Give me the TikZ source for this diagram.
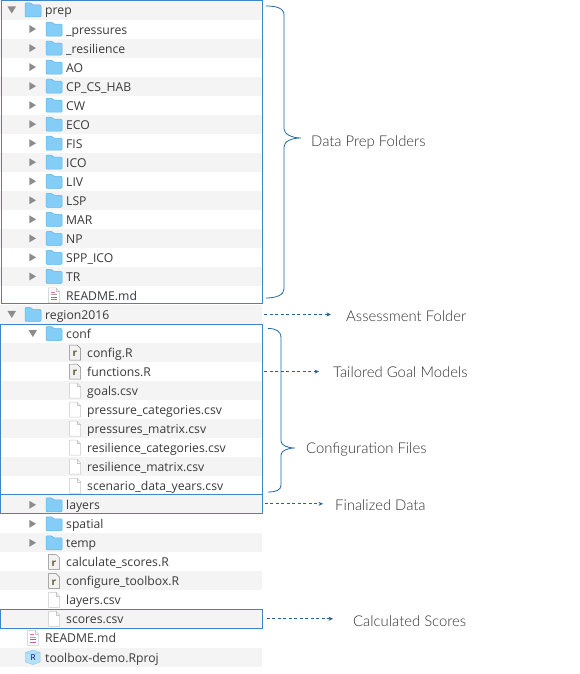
\documentclass[tikz,border=0pt]{standalone}
\usepackage{fontspec}
\setmainfont{Open Sans}
\newfontfamily\notefont{Lato Light}
\usetikzlibrary{arrows.meta}
\definecolor{rowgray}{HTML}{F4F4F4}
\definecolor{folderblue}{HTML}{84CDF7}
\definecolor{folderedge}{HTML}{5DB4E8}
\definecolor{boxblue}{HTML}{3F86C8}
\definecolor{bracecol}{HTML}{1F66A6}
\definecolor{arrowcol}{HTML}{2B5F92}
\definecolor{tricol}{HTML}{8C8C8C}
\definecolor{textcol}{HTML}{3A3A3A}
\definecolor{notecol}{HTML}{303030}
\tikzset{
  rowbar/.style={minimum width=262pt, minimum height=19.03pt, inner sep=0pt, outer sep=0pt},
  rowtext/.style={anchor=base west, inner sep=0pt, font=\fontsize{12.2}{14}\selectfont, text=textcol},
  selbox/.style={draw=boxblue, line width=1pt, inner sep=0pt},
  notelabel/.style={anchor=west, inner sep=0pt, font=\notefont\fontsize{14.85}{17}\selectfont, text=notecol},
  brace/.style={draw=bracecol, line width=0.8pt},
  pointer/.style={draw=arrowcol, line width=0.7pt, dash pattern=on 3pt off 2.5pt, -{Stealth[length=4.5pt,width=4pt]}},
  pics/foldericon/.style={code={
    \draw[fill=folderblue, draw=folderedge, line width=0.5pt, rounded corners=1pt]
      (-20,7) -- (-20,-7) -- (-14,-7) -- (-12.5,-5) -- (-4,-5) -- (-4,7) -- cycle;
  }},
  pics/fc/.style={code={
    \pic {foldericon};
    \fill[tricol] (-36.7,-4) -- (-30,0) -- (-36.7,4) -- cycle;
  }},
  pics/fo/.style={code={
    \pic {foldericon};
    \fill[tricol] (-37.5,-3.5) -- (-29,-3.5) -- (-33.2,3.5) -- cycle;
  }},
  pics/pageicon/.style={code={
    \draw[fill=white, draw=black!22, line width=0.5pt]
      (-17.5,-7.5) -- (-10,-7.5) -- (-6.5,-4) -- (-6.5,7.5) -- (-17.5,7.5) -- cycle;
    \draw[black!22, line width=0.4pt] (-10,-7.5) -- (-10,-4) -- (-6.5,-4);
  }},
  pics/csv/.style={code={\pic {pageicon};}},
  pics/rf/.style={code={
    \draw[black!50, fill=black!5, line width=0.5pt] (-17.5,-7.5) -- (-10,-7.5) -- (-6.5,-4) -- (-6.5,7.5) -- (-17.5,7.5) -- cycle;
    \node[inner sep=0pt, text=black!40!olive, font=\fontsize{10}{10}\selectfont\bfseries] at (-12,1.6) {r};
  }},
  pics/md/.style={code={
    \pic {pageicon};
    \draw[magenta!60, line width=0.8pt] (-15.5,-3.5) -- (-11,-3.5);
    \draw[black!35, line width=0.8pt] (-15.5,-1) -- (-9,-1);
    \draw[cyan!70!black, line width=0.8pt] (-15.5,1.5) -- (-9,1.5);
    \draw[violet!60, line width=0.8pt] (-15.5,4) -- (-9,4);
  }},
  pics/proj/.style={code={
    \draw[fill=folderblue!60, draw=folderedge!70, line width=0.5pt]
      (-12,-7) -- (-5,-4.5) -- (-5,5) -- (-12,7.5) -- (-19.5,5) -- (-19.5,-4.5) -- cycle;
    \draw[folderedge!80, line width=0.4pt] (-19.5,-4.5) -- (-12,-2.5) -- (-5,-4.5);
    \node[inner sep=0pt, text=blue!60!black, font=\fontsize{8}{8}\selectfont] at (-12,0.5) {R};
  }}
}
\begin{document}
\begin{tikzpicture}[x=1pt,y=-1pt]
\useasboundingbox (0,0) rectangle (580,674);
% rows
\foreach \i/\lvl/\kind/\name in {
  0/0/fo/prep, 1/1/fc/\_pressures, 2/1/fc/\_resilience, 3/1/fc/AO, 4/1/fc/CP\_CS\_HAB,
  5/1/fc/CW, 6/1/fc/ECO, 7/1/fc/FIS, 8/1/fc/ICO, 9/1/fc/LIV, 10/1/fc/LSP, 11/1/fc/MAR,
  12/1/fc/NP, 13/1/fc/SPP\_ICO, 14/1/fc/TR, 15/1/md/README.md, 16/0/fo/region2016,
  17/1/fo/conf, 18/2/rf/config.R, 19/2/rf/functions.R, 20/2/csv/goals.csv,
  21/2/csv/pressure\_categories.csv, 22/2/csv/pressures\_matrix.csv,
  23/2/csv/resilience\_categories.csv, 24/2/csv/resilience\_matrix.csv,
  25/2/csv/scenario\_data\_years.csv, 26/1/fc/layers, 27/1/fc/spatial, 28/1/fc/temp,
  29/1/rf/calculate\_scores.R, 30/1/rf/configure\_toolbox.R, 31/1/csv/layers.csv,
  32/1/csv/scores.csv, 33/0/md/README.md, 34/0/proj/toolbox-demo.Rproj}
{
  \pgfmathsetmacro{\rowy}{10+19.03*\i}
  \pgfmathsetmacro{\rowx}{45+21*\lvl}
  \ifodd\i \def\rowcol{white}\else \def\rowcol{rowgray}\fi
  \node[rowbar, fill=\rowcol] (row\i) at (131,\rowy) {};
  \pic at (\rowx,\rowy) {\kind};
  \node[rowtext] (name\i) at (\rowx,\rowy+5) {\name};
}
% blue selections
\node[selbox, minimum width=261pt, minimum height=302pt] (prepbox) at (131.5,152) {};
\node[selbox, minimum width=262pt, minimum height=170pt] (confbox) at (131,409.3) {};
\node[selbox, minimum width=262pt, minimum height=19pt] (layersbox) at (131,503.8) {};
\node[selbox, minimum width=262pt, minimum height=19pt] (scoresbox) at (131,618.8) {};
% labels
\node[notelabel] (preplabel) at (311,142.5) {Data Prep Folders};
\node[notelabel] (assesslabel) at (346,316) {Assessment Folder};
\node[notelabel] (goallabel) at (333,372) {Tailored Goal Models};
\node[notelabel] (conflabel) at (306,449.5) {Configuration Files};
\node[notelabel] (finallabel) at (335,505.5) {Finalized Data};
\node[notelabel] (scorelabel) at (353,621) {Calculated Scores};
% braces
\draw[brace] (266,6) .. controls (276,6) and (284,8) .. (284,15) -- (284,129)
  .. controls (284,134) and (292,138) .. (301,138) .. controls (292,138) and (284,141) .. (284,147)
  -- (284,289) .. controls (284,295) and (276,298) .. (266,298);
\draw[brace] (268,328.5) .. controls (276,328.5) and (281,331) .. (281,338) -- (281,441)
  .. controls (281,445) and (287,448) .. (295,448) .. controls (287,448) and (281,451) .. (281,455)
  -- (281,485) .. controls (281,490) and (276,492) .. (268,492);
% pointers
\draw[pointer, shorten <=2pt, shorten >=15pt] (row16.east) -- (row16.east -| assesslabel.west);
\draw[pointer, shorten <=2pt, shorten >=14pt] (row19.east) -- (row19.east -| goallabel.west);
\draw[pointer, shorten <=2pt, shorten >=12pt] (layersbox.east) -- (layersbox.east -| finallabel.west);
\draw[pointer, shorten <=4pt, shorten >=20pt] (scoresbox.east) -- (scoresbox.east -| scorelabel.west);
\end{tikzpicture}
\end{document}
